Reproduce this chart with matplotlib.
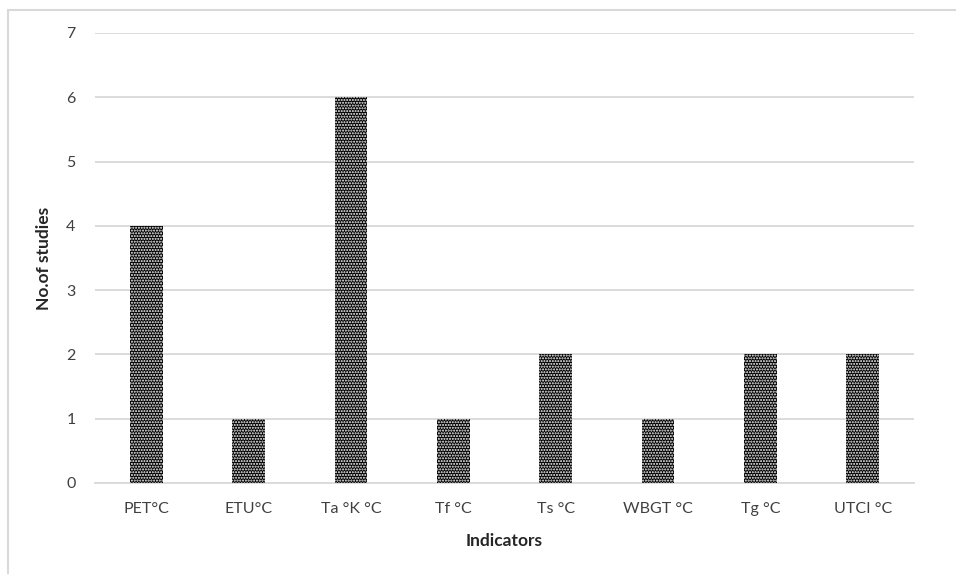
import matplotlib.pyplot as plt
from matplotlib.patches import Rectangle
import numpy as np

indicators = ["PET°C", "ETU°C", "Ta °K °C", "Tf °C", "Ts °C", "WBGT °C", "Tg °C", "UTCI °C"]
studies = [4, 1, 6, 1, 2, 1, 2, 2]

plt.rcParams["font.family"] = ["Lato", "DejaVu Sans"]
plt.rcParams["hatch.linewidth"] = 1.0

fig = plt.figure(figsize=(9.56, 5.74), dpi=100)
ax = fig.add_axes([95 / 956, 1 - 483 / 574, 819 / 956, 450 / 574])

x = np.arange(len(indicators))
ax.bar(x, studies, width=0.32, color="black", edgecolor="white", linewidth=0,
       hatch="......", zorder=3)

ax.set_xlim(-0.5, len(indicators) - 0.5)
ax.set_ylim(0, 7)
ax.set_yticks(range(0, 8))
ax.set_xticks(x)
ax.set_xticklabels(indicators)
ax.tick_params(length=0, labelsize=11.5, colors="#404040", pad=14)
ax.tick_params(axis="y", pad=14)
ax.grid(axis="y", color="#d9d9d9", linewidth=1.3, zorder=0)
for s in ["top", "right", "left"]:
    ax.spines[s].set_visible(False)
ax.spines["bottom"].set_color("#d9d9d9")
ax.spines["bottom"].set_linewidth(1.3)

ax.set_xlabel("Indicators", fontsize=12.5, fontweight="bold", color="#262626", labelpad=12)
ax.set_ylabel("No.of studies", fontsize=12.5, fontweight="bold", color="#262626", labelpad=10)

# chart frame, clipped by the picture edge on the right and bottom
fig.patches.append(Rectangle((8 / 956, -0.1), 1.2, 1 - 10 / 574 + 0.1,
                             transform=fig.transFigure, fill=False,
                             edgecolor="#d9d9d9", linewidth=1.5))

fig.savefig("out.png", dpi=100)
